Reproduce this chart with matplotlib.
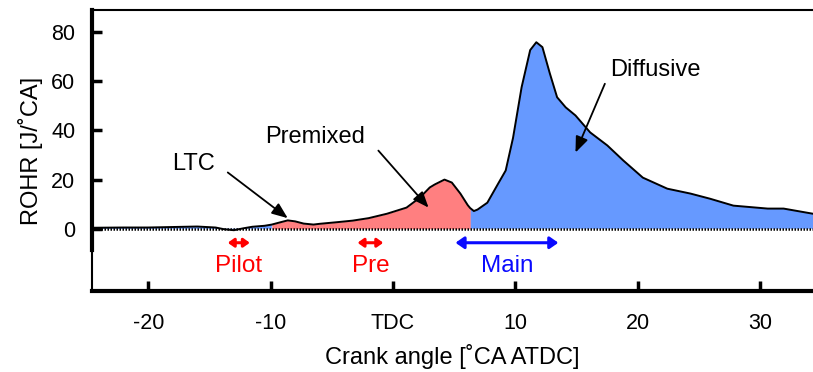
import numpy as np
import matplotlib.pyplot as plt

plt.rcParams['font.family'] = ['Liberation Sans', 'DejaVu Sans']

# ROHR trace [deg ATDC, J/deg]
angle = np.array([-24.6, -22, -20, -18, -16, -14.5, -13.8, -13, -12.2, -11.5, -10.5, -9.9,
                  -9.3, -8.6, -8.0, -7.3, -6.5, -6.0, -4.5, -3.3, -2.0, -0.5, 1.1, 2.2,
                  3.0, 3.4, 4.2, 4.8, 5.5, 6.1, 6.3, 6.6, 6.9, 7.7, 8.6, 9.2, 9.8, 10.5,
                  11.2, 11.7, 12.2, 12.8, 13.4, 14.1, 14.9, 16.1, 17.5, 18.8, 20.4, 22.4,
                  24.3, 25.9, 27.8, 30.6, 31.9, 34.3])
rohr = np.array([0.4, 0.5, 0.5, 0.7, 0.9, 0.5, -0.2, -0.6, 0.2, 0.8, 1.2, 1.7,
                 2.5, 3.4, 3.0, 2.1, 1.7, 2.0, 2.7, 3.3, 4.3, 6.1, 8.6, 12.7,
                 16.8, 18.0, 20.0, 18.8, 14.3, 9.6, 8.4, 7.2, 7.8, 10.6, 18.5, 23.7, 37, 57.6,
                 72.7, 75.9, 73.9, 63.3, 53.5, 49.4, 46.1, 39.2, 33.9, 27.8, 20.8, 16.3,
                 14.3, 12.2, 9.4, 8.2, 8.2, 6.1])

# premixed window
premix_start, premix_end = -9.9, 6.3

# injection events [start, end]
injections = {"Pilot": (-13.5, -11.7), "Pre": (-2.9, -0.8), "Main": (5.1, 13.5)}
inj_colors = {"Pilot": "#ff0000", "Pre": "#ff0000", "Main": "#0a0aff"}

# phase labels: text position, arrow tail, arrow tip
phases = {
    "LTC": ((-16.3, 26.5), (-13.5, 22.9), (-8.6, 4.3)),
    "Premixed": ((-6.4, 37.5), (-1.2, 31.8), (2.9, 8.6)),
    "Diffusive": ((21.4, 64.5), (17.3, 59.0), (14.9, 31.0)),
}

xticks = [-20, -10, 0, 10, 20, 30]
xticklabels = ["-20", "-10", "TDC", "10", "20", "30"]
yticks = [0, 20, 40, 60, 80]

fig = plt.figure(figsize=(8.13, 3.72), dpi=100)
ax = fig.add_axes([0.113, 0.218, 0.887, 0.755])

pink = (angle >= premix_start) & (angle <= premix_end)
blue = (angle <= premix_start) | (angle >= premix_end)
ax.fill_between(angle, 0, rohr, where=blue, color="#6699ff", lw=0)
ax.fill_between(angle, 0, rohr, where=pink, color="#ff7f80", lw=0)
ax.plot(angle, rohr, color="black", lw=1.4)
ax.axhline(0, color="black", lw=1.8, ls=(0, (0.6, 0.6)))

# phase annotations
for name, (txt, tail, tip) in phases.items():
    ax.text(*txt, name, fontsize=17, ha="center", va="center")
    ax.annotate("", xy=tip, xytext=tail,
                arrowprops=dict(arrowstyle="-|>,head_length=0.8,head_width=0.32",
                                color="black", lw=1.3, mutation_scale=12,
                                shrinkA=0, shrinkB=0))

# injection markers
for name, (s, e) in injections.items():
    c = inj_colors[name]
    head = "head_length=0.5,head_width=0.35" if name == "Main" else "head_length=0.35,head_width=0.25"
    ax.annotate("", xy=(e, -5.7), xytext=(s, -5.7),
                arrowprops=dict(arrowstyle="<|-|>," + head,
                                color=c, lw=2.2, shrinkA=0, shrinkB=0))
    ax.text((s + e) / 2, -15.3, name, color=c, fontsize=17.5, ha="center", va="center")

ax.set_xlim(-24.6, 34.3)
ax.set_ylim(-25.3, 89)
ax.set_xticks(xticks)
ax.set_xticklabels(xticklabels)
ax.set_yticks(yticks)
ax.tick_params(direction="in", length=7, width=2.5, labelsize=15.5)
ax.tick_params(axis="x", pad=16)
ax.tick_params(axis="y", pad=12)
ax.set_xlabel("Crank angle [˚CA ATDC]", fontsize=17, labelpad=7)
ax.set_ylabel("ROHR [J/˚CA]", fontsize=17, labelpad=6)

ax.spines["right"].set_visible(False)
ax.spines["top"].set_linewidth(1.5)
ax.spines["bottom"].set_linewidth(3)
ax.spines["left"].set_linewidth(3)
ax.spines["left"].set_bounds(-8.6, 89)
ax.plot([0, 0], [0, 0.2], transform=ax.transAxes, color="black", lw=1.5, clip_on=False)

fig.savefig("out.png", dpi=100)
